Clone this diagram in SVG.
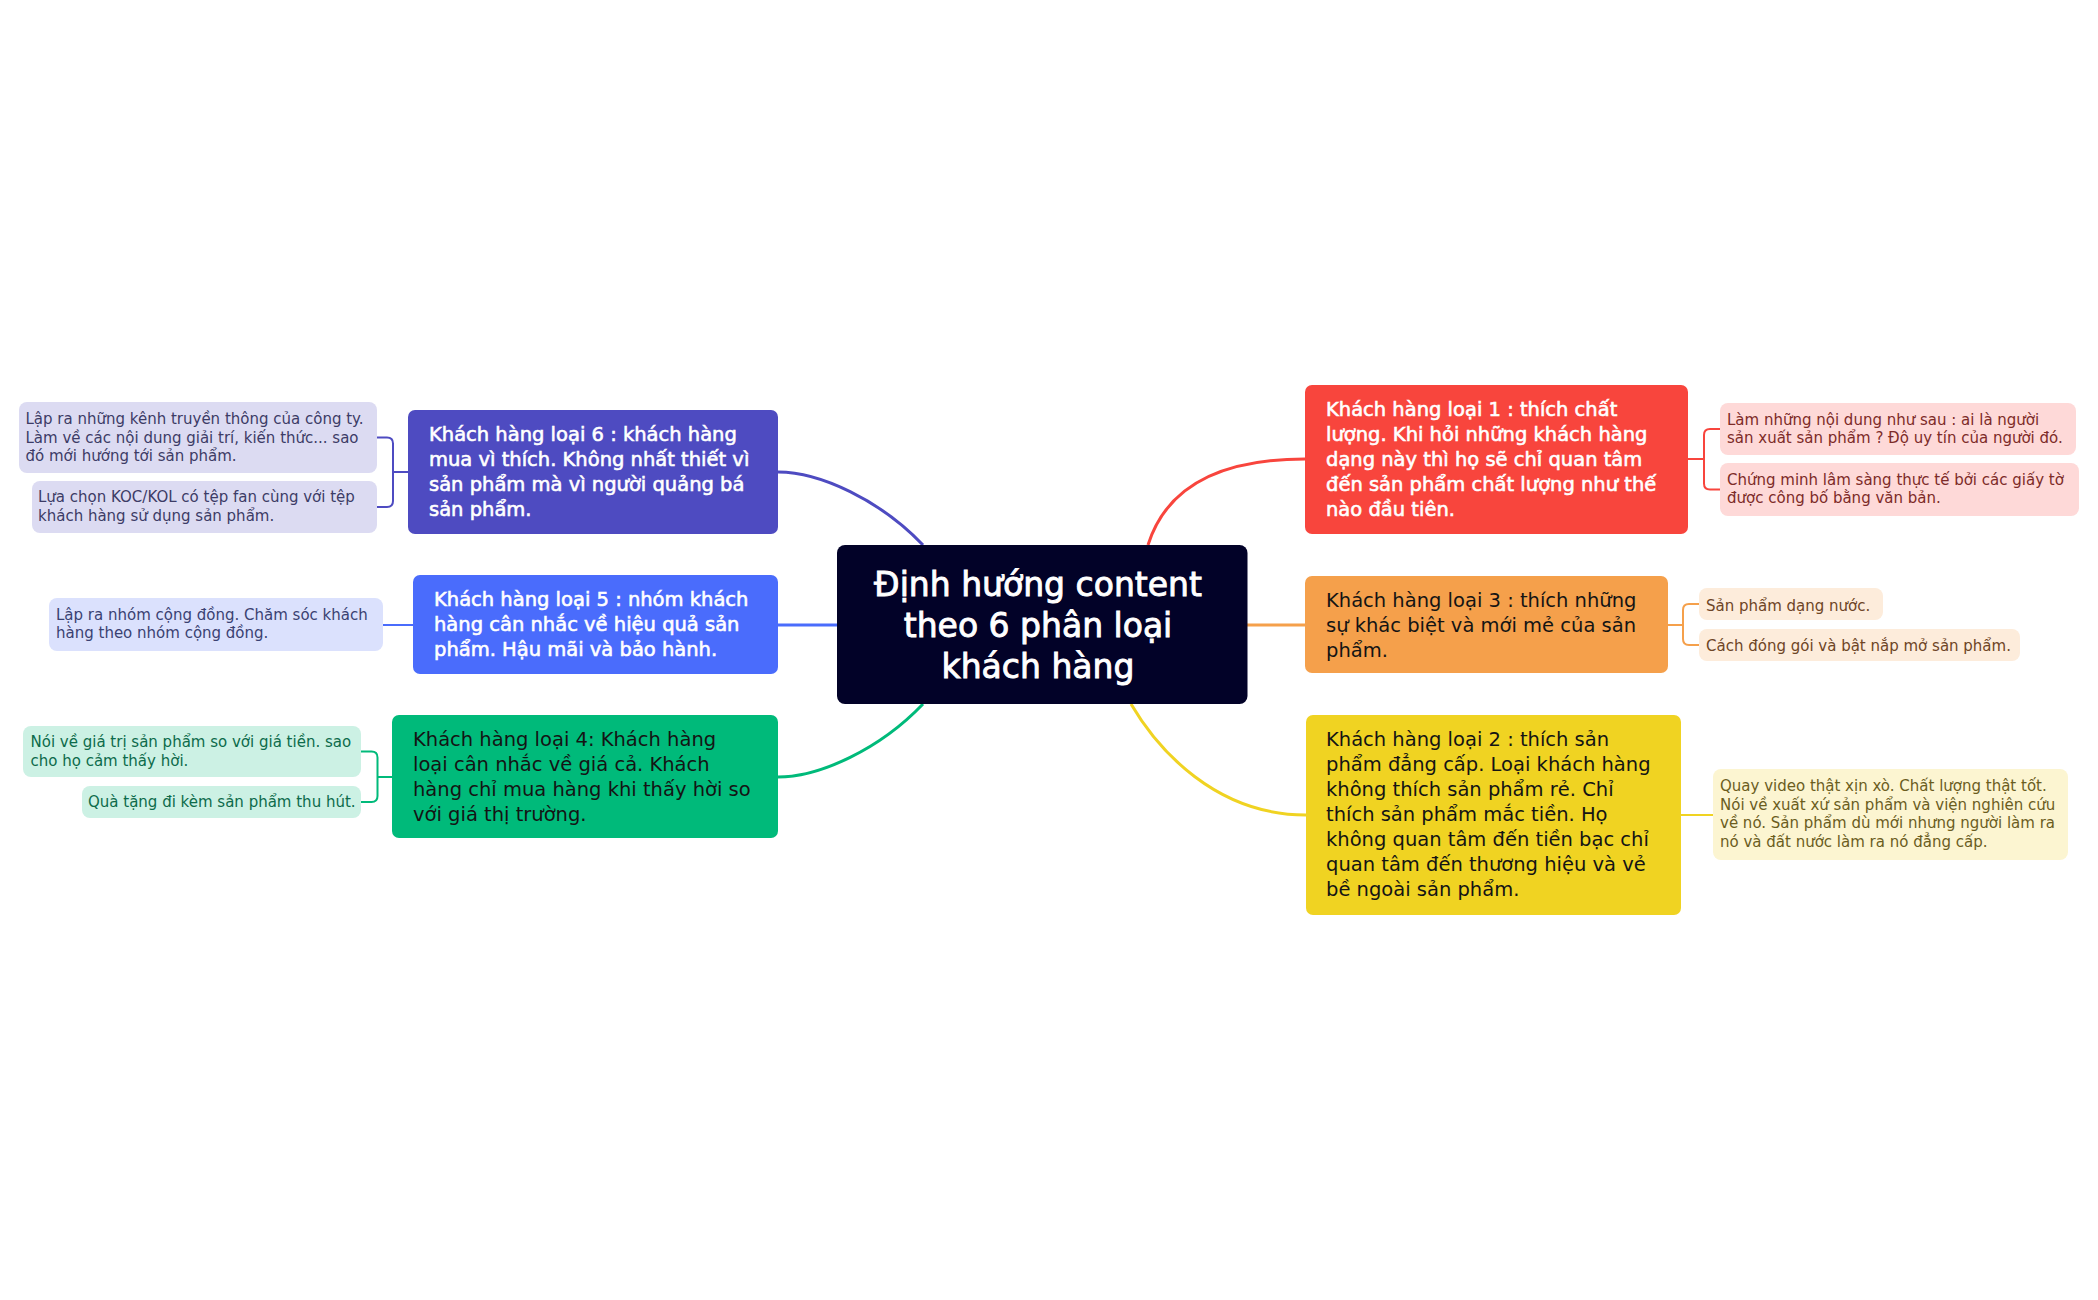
<svg xmlns="http://www.w3.org/2000/svg" width="2098" height="1300" viewBox="0 0 2098 1300">
<style>
text{font-family:"DejaVu Sans","Liberation Sans",sans-serif}
.title{font-size:33px;fill:#fff;stroke:#fff;stroke-width:0.9;text-anchor:middle}
.nb{font-size:19.5px;fill:#fff;stroke:#fff;stroke-width:0.6}
.nr{font-size:19.5px;fill:#141414}
.ct{font-size:15px}
.con path{fill:none;stroke-width:3}
.br path{fill:none;stroke-width:2}
</style>
<rect width="2098" height="1300" fill="#ffffff"/>
<g id="connectors">
<g class="con">
<path d="M778,472 C820,472 880,500 923,545" stroke="#4e4bc1"/>
<path d="M778,625 H837" stroke="#4a6cfc"/>
<path d="M778,777 C820,777 880,749 923,704" stroke="#00ba7a"/>
<path d="M1305,459 C1240,459 1170,475 1148,545" stroke="#f8453d"/>
<path d="M1247,625 H1305" stroke="#f5a04b"/>
<path d="M1306,815 C1216,815 1158,750 1131,704" stroke="#f0d322"/>
</g>
<g class="br">
<path d="M408,472 H393 M377,437.5 H387 Q393,437.5 393,443.5 V501 Q393,507 387,507 H377" stroke="#4e4bc1"/>
<path d="M413,625 H383" stroke="#4a6cfc"/>
<path d="M392,777 H377.5 M361,751.5 H371.5 Q377.5,751.5 377.5,757.5 V796 Q377.5,802 371.5,802 H361" stroke="#00ba7a"/>
<path d="M1688,459 H1704 M1720,429 H1710 Q1704,429 1704,435 V483.5 Q1704,489.5 1710,489.5 H1720" stroke="#f8453d"/>
<path d="M1668,625 H1683 M1699,604 H1689 Q1683,604 1683,610 V639 Q1683,645 1689,645 H1699" stroke="#f5a04b"/>
<path d="M1681,815 H1714" stroke="#f0d322"/>
</g>
</g>
<g id="center">
<rect x="837" y="545" width="410.5" height="159" rx="8" fill="#020228"/>
<text class="title" x="1038"><tspan x="1038" y="596">Định hướng content</tspan><tspan x="1038" y="637">theo 6 phân loại</tspan><tspan x="1038" y="678">khách hàng</tspan></text>
</g>
<g id="node6">
<rect x="408" y="410" width="370" height="124" rx="7" fill="#4e4bc1"/>
<text class="nb"><tspan x="429" y="441">Khách hàng loại 6 : khách hàng</tspan><tspan x="429" y="466">mua vì thích. Không nhất thiết vì</tspan><tspan x="429" y="491">sản phẩm mà vì người quảng bá</tspan><tspan x="429" y="516">sản phẩm.</tspan></text>
</g>
<g id="node6a">
<rect x="19" y="402" width="358" height="71" rx="8" fill="#dcdbf2"/>
<text class="ct" fill="#3d3c66"><tspan x="25.5" y="424">Lập ra những kênh truyền thông của công ty.</tspan><tspan x="25.5" y="442.5">Làm về các nội dung giải trí, kiến thức... sao</tspan><tspan x="25.5" y="461">đó mới hướng tới sản phẩm.</tspan></text>
</g>
<g id="node6b">
<rect x="32" y="481" width="345" height="52" rx="8" fill="#dcdbf2"/>
<text class="ct" fill="#3d3c66"><tspan x="38" y="502">Lựa chọn KOC/KOL có tệp fan cùng với tệp</tspan><tspan x="38" y="520.5">khách hàng sử dụng sản phẩm.</tspan></text>
</g>
<g id="node5">
<rect x="413" y="575" width="365" height="99" rx="7" fill="#4a6cfc"/>
<text class="nb"><tspan x="434" y="606">Khách hàng loại 5 : nhóm khách</tspan><tspan x="434" y="631">hàng cân nhắc về hiệu quả sản</tspan><tspan x="434" y="656">phẩm. Hậu mãi và bảo hành.</tspan></text>
</g>
<g id="node5a">
<rect x="49" y="598" width="334" height="53" rx="8" fill="#dbe1fd"/>
<text class="ct" fill="#3a4172"><tspan x="56" y="619.5">Lập ra nhóm cộng đồng. Chăm sóc khách</tspan><tspan x="56" y="638">hàng theo nhóm cộng đồng.</tspan></text>
</g>
<g id="node4">
<rect x="392" y="715" width="386" height="123" rx="7" fill="#00ba7a"/>
<text class="nr"><tspan x="413" y="745.5">Khách hàng loại 4: Khách hàng</tspan><tspan x="413" y="770.5">loại cân nhắc về giá cả. Khách</tspan><tspan x="413" y="795.5">hàng chỉ mua hàng khi thấy hời so</tspan><tspan x="413" y="820.5">với giá thị trường.</tspan></text>
</g>
<g id="node4a">
<rect x="23" y="726" width="338" height="51" rx="8" fill="#ccf1e4"/>
<text class="ct" fill="#0d6b4b"><tspan x="30.5" y="747">Nói về giá trị sản phẩm so với giá tiền. sao</tspan><tspan x="30.5" y="765.5">cho họ cảm thấy hời.</tspan></text>
</g>
<g id="node4b">
<rect x="82" y="786" width="279" height="32" rx="8" fill="#ccf1e4"/>
<text class="ct" fill="#0d6b4b"><tspan x="88" y="806.5">Quà tặng đi kèm sản phẩm thu hút.</tspan></text>
</g>
<g id="node1">
<rect x="1305" y="385" width="383" height="149" rx="7" fill="#f8453d"/>
<text class="nb"><tspan x="1326" y="415.5">Khách hàng loại 1 : thích chất</tspan><tspan x="1326" y="440.5">lượng. Khi hỏi những khách hàng</tspan><tspan x="1326" y="465.5">dạng này thì họ sẽ chỉ quan tâm</tspan><tspan x="1326" y="490.5">đến sản phẩm chất lượng như thế</tspan><tspan x="1326" y="515.5">nào đầu tiên.</tspan></text>
</g>
<g id="node1a">
<rect x="1720" y="403" width="356" height="52" rx="8" fill="#fed9d8"/>
<text class="ct" fill="#7d2b28"><tspan x="1727" y="425">Làm những nội dung như sau : ai là người</tspan><tspan x="1727" y="443">sản xuất sản phẩm ? Độ uy tín của người đó.</tspan></text>
</g>
<g id="node1b">
<rect x="1720" y="463" width="359" height="53" rx="8" fill="#fed9d8"/>
<text class="ct" fill="#7d2b28"><tspan x="1727" y="484.5">Chứng minh lâm sàng thực tế bởi các giấy tờ</tspan><tspan x="1727" y="502.5">được công bố bằng văn bản.</tspan></text>
</g>
<g id="node3">
<rect x="1305" y="576" width="363" height="97" rx="7" fill="#f5a04b"/>
<text class="nr"><tspan x="1326" y="606.5">Khách hàng loại 3 : thích những</tspan><tspan x="1326" y="631.5">sự khác biệt và mới mẻ của sản</tspan><tspan x="1326" y="656.5">phẩm.</tspan></text>
</g>
<g id="node3a">
<rect x="1699" y="588" width="184" height="32" rx="8" fill="#fdecdb"/>
<text class="ct" fill="#6e4526"><tspan x="1706" y="610.5">Sản phẩm dạng nước.</tspan></text>
</g>
<g id="node3b">
<rect x="1699" y="629" width="321" height="32" rx="8" fill="#fdecdb"/>
<text class="ct" fill="#6e4526"><tspan x="1706" y="650.5">Cách đóng gói và bật nắp mở sản phẩm.</tspan></text>
</g>
<g id="node2">
<rect x="1306" y="715" width="375" height="200" rx="7" fill="#f0d322"/>
<text class="nr"><tspan x="1326" y="746">Khách hàng loại 2 : thích sản</tspan><tspan x="1326" y="771">phẩm đẳng cấp. Loại khách hàng</tspan><tspan x="1326" y="796">không thích sản phẩm rẻ. Chỉ</tspan><tspan x="1326" y="821">thích sản phẩm mắc tiền. Họ</tspan><tspan x="1326" y="846">không quan tâm đến tiền bạc chỉ</tspan><tspan x="1326" y="871">quan tâm đến thương hiệu và vẻ</tspan><tspan x="1326" y="896">bề ngoài sản phẩm.</tspan></text>
</g>
<g id="node2a">
<rect x="1713" y="769" width="355" height="91" rx="8" fill="#fcf5d1"/>
<text class="ct" fill="#6b5d1e"><tspan x="1720" y="790.5">Quay video thật xịn xò. Chất lượng thật tốt.</tspan><tspan x="1720" y="809.5">Nói về xuất xứ sản phẩm và viện nghiên cứu</tspan><tspan x="1720" y="828">về nó. Sản phẩm dù mới nhưng người làm ra</tspan><tspan x="1720" y="846.5">nó và đất nước làm ra nó đẳng cấp.</tspan></text>
</g>
</svg>
